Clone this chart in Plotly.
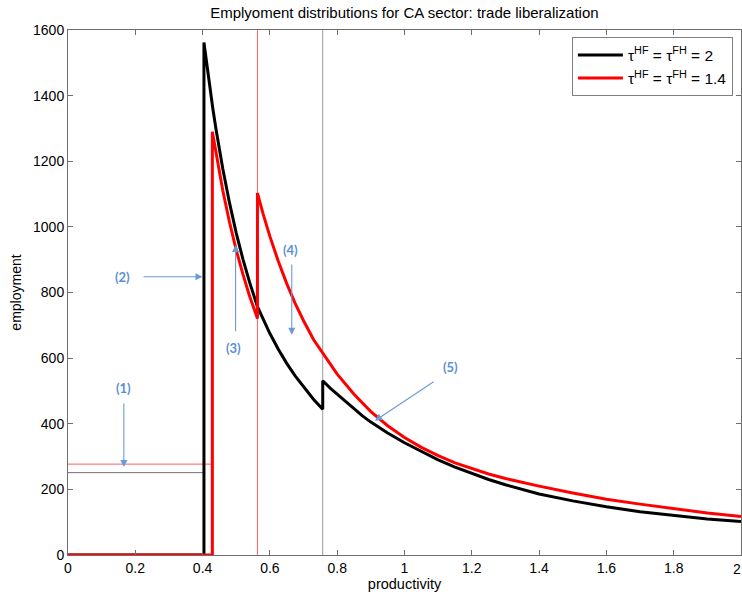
import plotly.graph_objects as go

# Employment by productivity, tau = 2 (baseline)
black_zero_x = [0.0, 0.404]
black_zero_y = [0, 0]
black_dom_x = [0.404, 0.41, 0.42, 0.43, 0.44, 0.45, 0.46, 0.48, 0.5, 0.52, 0.54, 0.563,
               0.58, 0.6, 0.625, 0.65, 0.675, 0.7, 0.73, 0.757]
black_dom_y = [1562, 1513, 1435, 1363, 1297, 1235, 1177, 1073, 981, 901, 830, 757,
               718, 675, 627, 584, 546, 512, 474, 444]
black_exp_x = [0.757, 0.78, 0.8, 0.825, 0.85, 0.875, 0.9, 0.95, 1.0, 1.05, 1.1, 1.15, 1.2,
               1.25, 1.3, 1.35, 1.4, 1.5, 1.6, 1.7, 1.8, 1.9, 2.0]
black_exp_y = [531, 508, 490, 467, 445, 424, 405, 372, 342, 315, 290, 268, 248,
               230, 214, 199, 186, 165, 147, 132, 120, 110, 102]

# Employment by productivity, tau = 1.4 (liberalized)
red_zero_x = [0.0, 0.429]
red_zero_y = [0, 0]
red_dom_x = [0.429, 0.44, 0.45, 0.46, 0.48, 0.5, 0.52, 0.54, 0.563]
red_dom_y = [1290, 1222, 1165, 1111, 1014, 929, 855, 788, 721]
red_exp_x = [0.563, 0.58, 0.6, 0.625, 0.65, 0.675, 0.7, 0.73, 0.757, 0.8, 0.85, 0.9, 0.95,
             1.0, 1.05, 1.1, 1.15, 1.2, 1.25, 1.3, 1.35, 1.4, 1.5, 1.6, 1.7, 1.8, 1.9, 2.0]
red_exp_y = [1103, 1039, 971, 895, 827, 767, 714, 656, 615, 551, 490, 437, 394,
             358, 328, 303, 281, 263, 247, 233, 221, 210, 189, 170, 155, 141, 128, 117]

# Cutoffs and reference levels
black_export_cutoff = 0.757
red_export_cutoff = 0.563
black_level = 251
red_level = 277

# Callouts: label, label position, arrow tail, arrow tip
callout_labels = ["(1)", "(2)", "(3)", "(4)", "(5)"]
callout_text_xy = [(0.164, 509), (0.163, 848), (0.493, 631), (0.662, 930), (1.138, 574)]
callout_tail_xy = [(0.166, 466), (0.22, 848), (0.498, 677), (0.665, 890), (1.091, 531)]
callout_tip_xy = [(0.166, 268), (0.400, 848), (0.498, 945), (0.665, 671), (0.912, 409)]

black_x = black_zero_x + black_dom_x + black_exp_x
black_y = black_zero_y + black_dom_y + black_exp_y
red_x = red_zero_x + red_dom_x + red_exp_x
red_y = red_zero_y + red_dom_y + red_exp_y

fig = go.Figure()

# thin guide lines
fig.add_trace(go.Scatter(x=[0, black_dom_x[0]], y=[black_level, black_level], mode="lines",
                         line=dict(color="#6f6f6f", width=1), showlegend=False, hoverinfo="skip"))
fig.add_trace(go.Scatter(x=[0, red_dom_x[0]], y=[red_level, red_level], mode="lines",
                         line=dict(color="#ff5a5a", width=1), showlegend=False, hoverinfo="skip"))
fig.add_trace(go.Scatter(x=[black_export_cutoff, black_export_cutoff], y=[0, 1600], mode="lines",
                         line=dict(color="#999999", width=1), showlegend=False, hoverinfo="skip"))
fig.add_trace(go.Scatter(x=[red_export_cutoff, red_export_cutoff], y=[0, 1600], mode="lines",
                         line=dict(color="#ff6060", width=1), showlegend=False, hoverinfo="skip"))

fig.add_trace(go.Scatter(x=black_x, y=black_y, mode="lines",
                         line=dict(color="black", width=3),
                         name="τ<sup>HF</sup> = τ<sup>FH</sup> = 2"))
fig.add_trace(go.Scatter(x=red_x, y=red_y, mode="lines",
                         line=dict(color="#ff0000", width=3),
                         name="τ<sup>HF</sup> = τ<sup>FH</sup> = 1.4"))

annotations = []
for label, (tx, ty), (ax, ay), (hx, hy) in zip(callout_labels, callout_text_xy, callout_tail_xy, callout_tip_xy):
    annotations.append(dict(x=hx, y=hy, ax=ax, ay=ay, xref="x", yref="y", axref="x", ayref="y",
                            text="", showarrow=True, arrowhead=2, arrowsize=1.3, arrowwidth=1.1,
                            arrowcolor="#6a9ad8"))
    annotations.append(dict(x=tx, y=ty, xref="x", yref="y", text="<b>" + label + "</b>",
                            showarrow=False, font=dict(family="Lato", size=13, color="#5a8fd6")))

# last x tick label sits on the figure edge
annotations.append(dict(x=2.0, y=0, xref="x", yref="paper", xanchor="right", yanchor="top",
                        xshift=2, yshift=-4, text="2", showarrow=False,
                        font=dict(family="Liberation Sans", size=14)))

fig.update_layout(
    width=742, height=598,
    margin=dict(l=68, r=1, t=30, b=43),
    paper_bgcolor="white", plot_bgcolor="white",
    title=dict(text="Emplyoment distributions for CA sector: trade liberalization",
               x=0.545, xref="container", xanchor="center", y=0.979, yref="container", yanchor="middle",
               font=dict(family="Liberation Sans", size=15, color="black")),
    font=dict(family="Liberation Sans", size=14, color="black"),
    legend=dict(x=0.988, y=0.986, xanchor="right", yanchor="top", bgcolor="white",
                bordercolor="#7f7f7f", borderwidth=1, font=dict(size=15.5),
                tracegroupgap=0, itemwidth=45),
    annotations=annotations,
    xaxis=dict(range=[0, 2], dtick=0.2, tick0=0, showgrid=False, zeroline=False,
               showline=True, linecolor="#6e6e6e", linewidth=1, mirror="ticks",
               ticks="inside", ticklen=5, tickcolor="#6e6e6e",
               title=dict(text="productivity", font=dict(size=14.5), standoff=2)),
    yaxis=dict(range=[0, 1600], dtick=200, tick0=0, showgrid=False, zeroline=False,
               showline=True, linecolor="#6e6e6e", linewidth=1, mirror="ticks",
               ticks="inside", ticklen=5, tickcolor="#6e6e6e",
               title=dict(text="employment", font=dict(size=14), standoff=8)),
)

fig.write_html("out.html")
